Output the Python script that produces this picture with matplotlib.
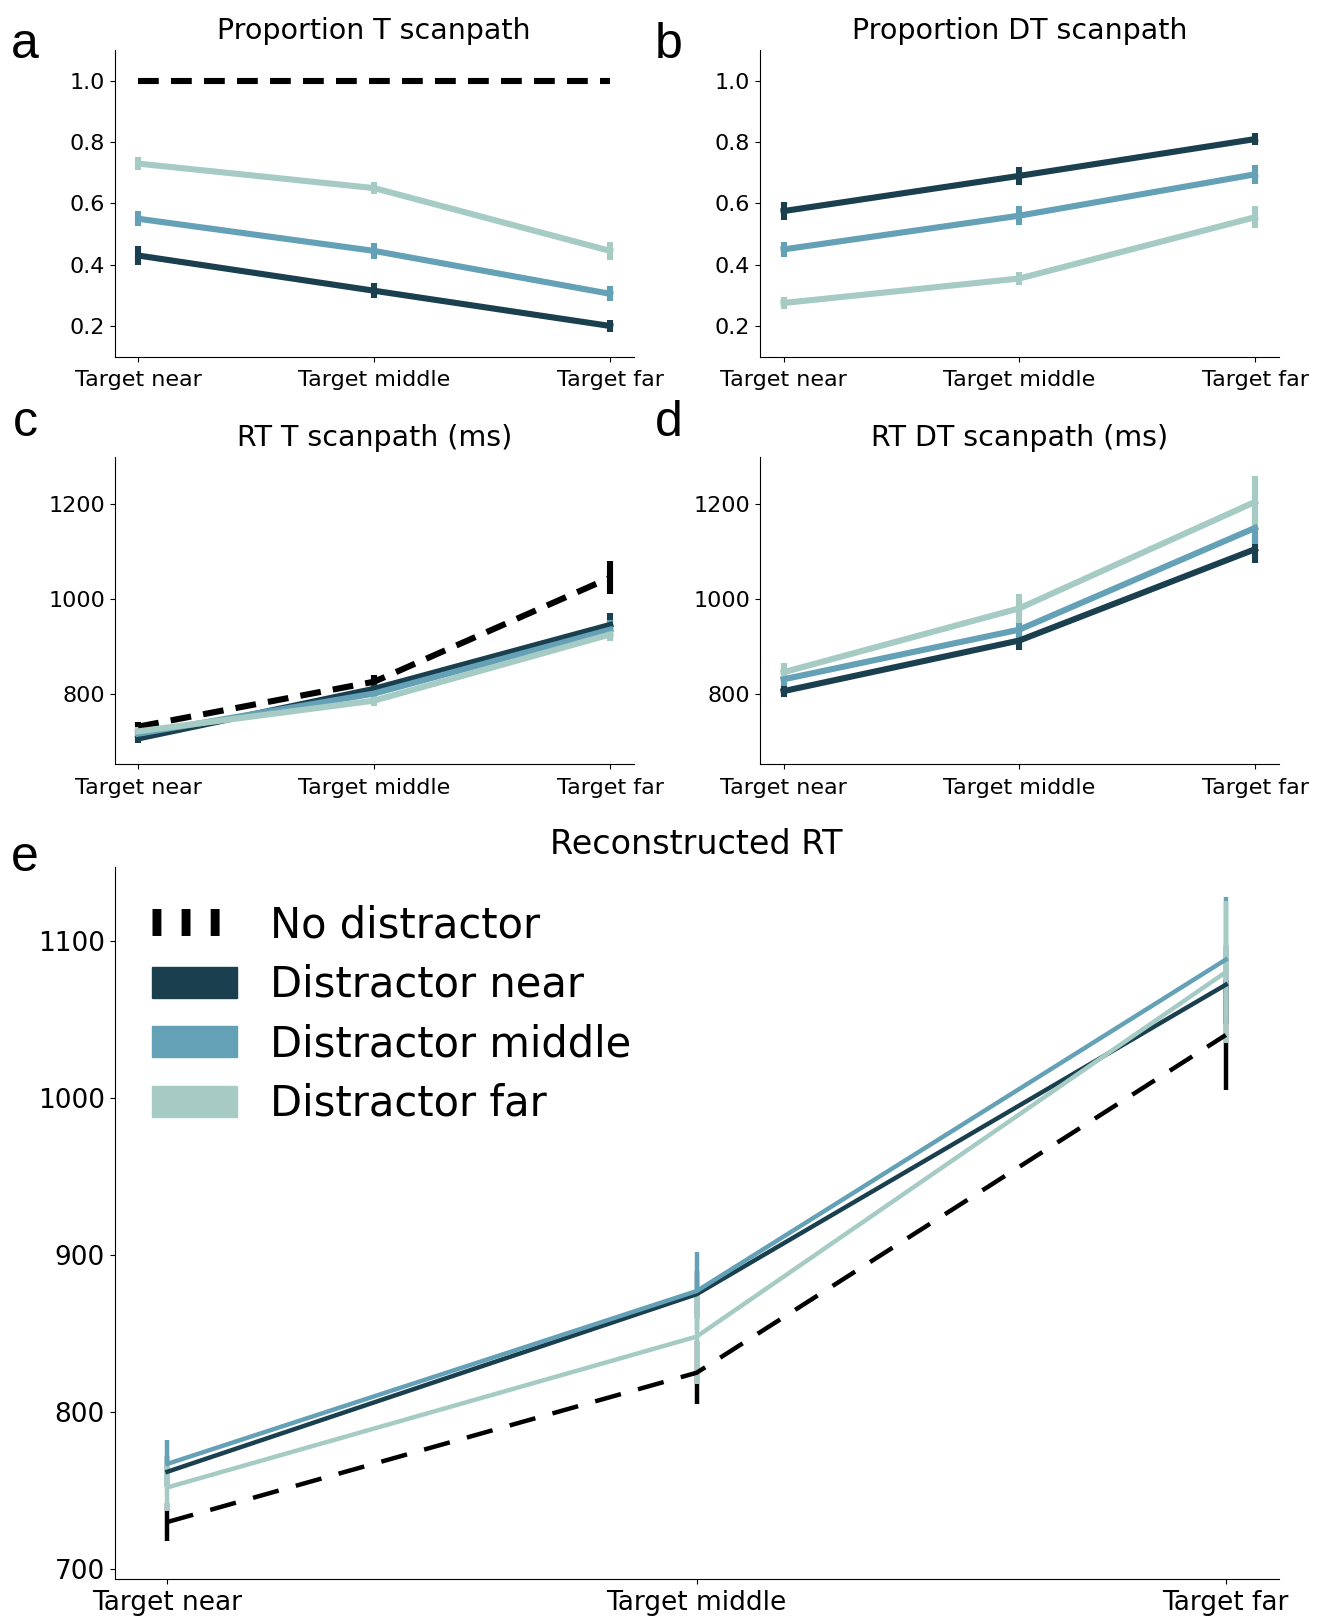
import numpy as np
import matplotlib
matplotlib.use("Agg")
import matplotlib.pyplot as plt
from matplotlib.lines import Line2D
from matplotlib.patches import Patch

# Categories and series
conditions = ["Target near", "Target middle", "Target far"]
series_names = ["No distractor", "Distractor near", "Distractor middle", "Distractor far"]
colors = ["black", "#1a3f4e", "#64a1b7", "#a5cbc4"]

# a: Proportion T scanpath
prop_t_none = [1.0, 1.0, 1.0]
prop_t_near = [0.43, 0.315, 0.20]
prop_t_mid = [0.55, 0.445, 0.305]
prop_t_far = [0.73, 0.65, 0.445]
prop_t_err = [[0.0, 0.0, 0.0], [0.03, 0.025, 0.02], [0.025, 0.025, 0.025], [0.02, 0.02, 0.03]]

# b: Proportion DT scanpath
prop_dt_near = [0.575, 0.69, 0.81]
prop_dt_mid = [0.45, 0.56, 0.695]
prop_dt_far = [0.275, 0.355, 0.555]
prop_dt_err = [[0.03, 0.03, 0.02], [0.025, 0.03, 0.03], [0.02, 0.02, 0.035]]

# c: RT T scanpath (ms)
rt_t_none = [730, 825, 1045]
rt_t_near = [705, 810, 945]
rt_t_mid = [715, 800, 935]
rt_t_far = [720, 785, 925]
rt_t_err = [[10, 15, 35], [10, 12, 25], [10, 12, 20], [10, 12, 15]]

# d: RT DT scanpath (ms)
rt_dt_near = [805, 912, 1105]
rt_dt_mid = [830, 935, 1150]
rt_dt_far = [845, 980, 1205]
rt_dt_err = [[12, 20, 30], [15, 20, 35], [20, 30, 55]]

# e: Reconstructed RT
rec_none = [730, 825, 1040]
rec_near = [762, 875, 1072]
rec_mid = [767, 877, 1088]
rec_far = [752, 848, 1080]
rec_err = [[12, 20, 35], [10, 15, 25], [15, 25, 40], [15, 30, 45]]

x = np.arange(len(conditions))

fig = plt.figure(figsize=(13.21, 16.21), dpi=100)
ax_a = fig.add_axes([0.0868, 0.780, 0.393, 0.189])
ax_b = fig.add_axes([0.5753, 0.780, 0.3926, 0.189])
ax_c = fig.add_axes([0.0868, 0.5284, 0.393, 0.1897])
ax_d = fig.add_axes([0.5753, 0.5284, 0.3926, 0.1897])
ax_e = fig.add_axes([0.0867, 0.0262, 0.8813, 0.439])


def draw(ax, values, errs, cols, lw, dash, tick_fs, pad):
    for v, e, c in zip(values, errs, cols):
        if c == "black":
            ax.errorbar(x, v, yerr=e, color=c, lw=lw, elinewidth=lw, capsize=0,
                        dashes=dash, zorder=2)
        else:
            ax.errorbar(x, v, yerr=e, color=c, lw=lw, elinewidth=lw, capsize=0, zorder=2)
    ax.set_xticks(x)
    ax.set_xticklabels(conditions, fontsize=tick_fs)
    ax.tick_params(axis="y", labelsize=tick_fs)
    ax.tick_params(axis="x", pad=pad)
    ax.set_xlim(-0.1, 2.1)
    ax.spines["top"].set_visible(False)
    ax.spines["right"].set_visible(False)


draw(ax_a, [prop_t_none, prop_t_near, prop_t_mid, prop_t_far], prop_t_err, colors, 4.4, (3.4, 2.0), 16, 6)
ax_a.set_ylim(0.1, 1.1)
ax_a.set_yticks([0.2, 0.4, 0.6, 0.8, 1.0])
ax_a.set_title("Proportion T scanpath", fontsize=20.5, pad=8)

draw(ax_b, [prop_dt_near, prop_dt_mid, prop_dt_far], prop_dt_err, colors[1:], 4.4, (3.4, 2.0), 16, 6)
ax_b.set_ylim(0.1, 1.1)
ax_b.set_yticks([0.2, 0.4, 0.6, 0.8, 1.0])
ax_b.set_title("Proportion DT scanpath", fontsize=20.5, pad=8)

draw(ax_c, [rt_t_none, rt_t_near, rt_t_mid, rt_t_far], rt_t_err, colors, 4.4, (3.4, 2.0), 16, 6)
ax_c.set_ylim(650, 1300)
ax_c.set_yticks([800, 1000, 1200])
ax_c.set_title("RT T scanpath (ms)", fontsize=20.5, pad=8)

draw(ax_d, [rt_dt_near, rt_dt_mid, rt_dt_far], rt_dt_err, colors[1:], 4.4, (3.4, 2.0), 16, 6)
ax_d.set_ylim(650, 1300)
ax_d.set_yticks([800, 1000, 1200])
ax_d.set_title("RT DT scanpath (ms)", fontsize=20.5, pad=8)

draw(ax_e, [rec_none, rec_near, rec_mid, rec_far], rec_err, colors, 3.2, (6, 4), 19, 5)
ax_e.set_ylim(694, 1147)
ax_e.set_yticks([700, 800, 900, 1000, 1100])
ax_e.set_title("Reconstructed RT", fontsize=24, pad=9)

handles = [Line2D([0], [0], color="black", lw=19.4, linestyle=(0, (0.33, 0.75)))]
handles += [Patch(facecolor=c, edgecolor=c) for c in colors[1:]]
ax_e.legend(handles, series_names, loc="upper left", frameon=False, fontsize=30,
            handlelength=2.05, handleheight=0.77, labelspacing=0.42, handletextpad=0.77)

for lab, (fx, fy) in zip("abcde", [(0.019, 0.972), (0.506, 0.972), (0.019, 0.739), (0.506, 0.739), (0.019, 0.471)]):
    fig.text(fx, fy, lab, fontsize=36, family="Liberation Sans", ha="center", va="center")

fig.savefig("out.png", dpi=100)
